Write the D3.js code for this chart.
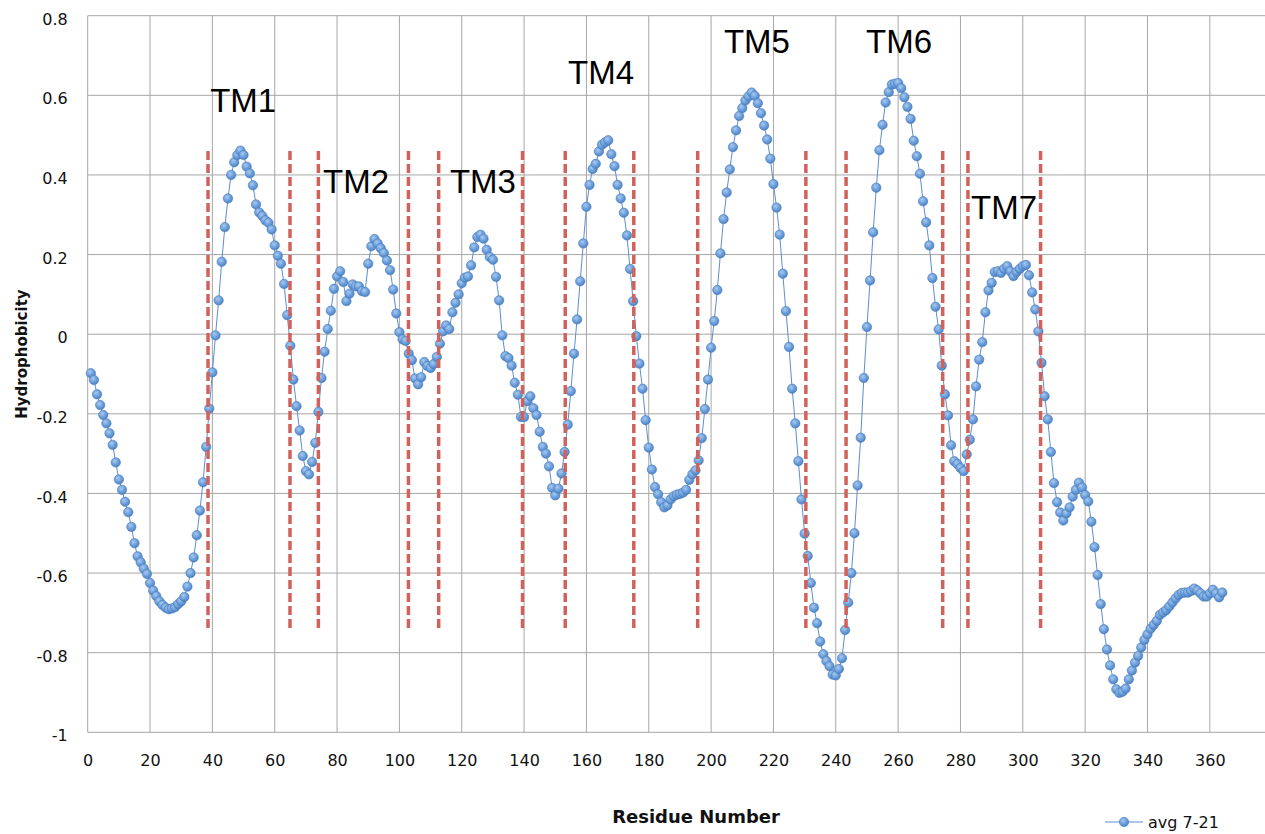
<!DOCTYPE html>
<html>
<head>
<meta charset="utf-8">
<script src="https://cdn.jsdelivr.net/npm/d3@7/dist/d3.min.js"></script>
<style>
  body { margin: 0; background: #fff; }
  svg { display: block; }
</style>
</head>
<body>
<div id="chart"></div>
<script>
// avg 7-21 hydrophobicity, one value per residue (1..364)
var hydrophobicity = [
  -0.098, -0.115, -0.151, -0.178, -0.203, -0.224, -0.249, -0.278, -0.322, -0.365,
  -0.391, -0.421, -0.447, -0.484, -0.525, -0.558, -0.573, -0.589, -0.602, -0.625,
  -0.644, -0.658, -0.671, -0.680, -0.687, -0.691, -0.689, -0.686, -0.678, -0.671,
  -0.660, -0.634, -0.600, -0.561, -0.505, -0.443, -0.372, -0.283, -0.187, -0.096,
  -0.003, 0.085, 0.182, 0.269, 0.341, 0.400, 0.432, 0.450, 0.461, 0.450,
  0.421, 0.404, 0.374, 0.326, 0.306, 0.297, 0.286, 0.280, 0.263, 0.223,
  0.197, 0.177, 0.126, 0.048, -0.029, -0.114, -0.181, -0.242, -0.306, -0.344,
  -0.352, -0.321, -0.273, -0.195, -0.110, -0.044, 0.013, 0.059, 0.114, 0.145,
  0.158, 0.131, 0.083, 0.102, 0.125, 0.120, 0.120, 0.108, 0.106, 0.177,
  0.221, 0.239, 0.228, 0.216, 0.204, 0.185, 0.161, 0.112, 0.052, 0.005,
  -0.013, -0.017, -0.049, -0.065, -0.111, -0.126, -0.108, -0.070, -0.080, -0.085,
  -0.075, -0.057, -0.024, 0.007, 0.022, 0.013, 0.055, 0.079, 0.100, 0.128,
  0.142, 0.145, 0.173, 0.218, 0.244, 0.250, 0.240, 0.212, 0.194, 0.187,
  0.144, 0.085, -0.003, -0.055, -0.060, -0.079, -0.122, -0.152, -0.208, -0.208,
  -0.168, -0.156, -0.186, -0.203, -0.245, -0.283, -0.300, -0.332, -0.386, -0.405,
  -0.388, -0.350, -0.296, -0.227, -0.143, -0.049, 0.037, 0.133, 0.228, 0.320,
  0.375, 0.415, 0.428, 0.459, 0.476, 0.482, 0.487, 0.452, 0.422, 0.375,
  0.341, 0.305, 0.248, 0.164, 0.083, -0.005, -0.074, -0.137, -0.216, -0.285,
  -0.340, -0.384, -0.402, -0.422, -0.435, -0.430, -0.415, -0.407, -0.403, -0.401,
  -0.398, -0.391, -0.366, -0.352, -0.342, -0.317, -0.261, -0.188, -0.114, -0.034,
  0.033, 0.111, 0.203, 0.289, 0.356, 0.414, 0.470, 0.512, 0.548, 0.568,
  0.587, 0.597, 0.607, 0.599, 0.580, 0.555, 0.524, 0.489, 0.441, 0.377,
  0.318, 0.250, 0.152, 0.058, -0.032, -0.137, -0.224, -0.319, -0.415, -0.501,
  -0.557, -0.625, -0.687, -0.726, -0.772, -0.804, -0.821, -0.834, -0.855, -0.857,
  -0.841, -0.814, -0.743, -0.674, -0.600, -0.500, -0.380, -0.260, -0.110, 0.018,
  0.135, 0.256, 0.368, 0.462, 0.526, 0.582, 0.608, 0.627, 0.629, 0.631,
  0.618, 0.595, 0.571, 0.541, 0.486, 0.447, 0.403, 0.334, 0.281, 0.223,
  0.141, 0.069, 0.012, -0.079, -0.151, -0.204, -0.279, -0.319, -0.326, -0.336,
  -0.344, -0.302, -0.265, -0.214, -0.131, -0.064, -0.020, 0.055, 0.110, 0.129,
  0.156, 0.158, 0.154, 0.164, 0.171, 0.158, 0.146, 0.156, 0.164, 0.171,
  0.174, 0.148, 0.105, 0.062, 0.007, -0.072, -0.156, -0.214, -0.296, -0.374,
  -0.422, -0.448, -0.468, -0.450, -0.435, -0.408, -0.391, -0.373, -0.385, -0.404,
  -0.420, -0.471, -0.535, -0.605, -0.678, -0.741, -0.792, -0.832, -0.867, -0.892,
  -0.901, -0.898, -0.890, -0.867, -0.845, -0.825, -0.808, -0.787, -0.768, -0.754,
  -0.740, -0.730, -0.720, -0.705, -0.699, -0.693, -0.684, -0.674, -0.664, -0.655,
  -0.650, -0.649, -0.649, -0.645, -0.639, -0.644, -0.651, -0.659, -0.659, -0.651,
  -0.642, -0.651, -0.661, -0.649
];
var firstResidue = 1;

// helix boundaries (residue numbers) drawn as red dashed lines
var tmBoundaries = [38.6, 64.9, 74, 102.9, 112.6, 139.5, 153.2, 175.2, 195.7, 230.4, 243.3, 274.3, 282.4, 305.7];
var boundaryTop = 0.46;
var boundaryBottom = -0.74;

// helix labels, anchored in data units (residue, hydrophobicity of baseline)
var tmNames = ["TM1", "TM2", "TM3", "TM4", "TM5", "TM6", "TM7"];
var tmNameX = [39.3, 75.5, 116.2, 154.1, 204.1, 249.7, 283.4];
var tmNameY = [0.559, 0.355, 0.355, 0.629, 0.707, 0.707, 0.290];

var xTicks = [0, 20, 40, 60, 80, 100, 120, 140, 160, 180, 200, 220, 240, 260, 280, 300, 320, 340, 360];
var xGrid = xTicks.concat([380]);
var yTicks = [0.8, 0.6, 0.4, 0.2, 0, -0.2, -0.4, -0.6, -0.8, -1];
var yTickLabels = ["0.8", "0.6", "0.4", "0.2", "0", "-0.2", "-0.4", "-0.6", "-0.8", "-1"];
var seriesName = "avg 7-21";

var width = 1265, height = 834;
var plot = {left: 87.7, top: 15.7, bottom: 732.3};
var pxPerResidue = 3.117;
var markerR = 4.7;

var data = hydrophobicity.map(function(v, i) { return {res: firstResidue + i, value: v}; });

var svg = d3.select("#chart")
  .append("svg")
    .attr("width", width)
    .attr("height", height)
    .style("font-family", "'DejaVu Sans', sans-serif");

svg.append("rect").attr("width", width).attr("height", height).attr("fill", "#fff");

var defs = svg.append("defs");
var grad = defs.append("radialGradient")
  .attr("id", "bubble")
  .attr("cx", "40%").attr("cy", "35%").attr("r", "65%");
grad.append("stop").attr("offset", "0%").attr("stop-color", "#a9c9ee");
grad.append("stop").attr("offset", "60%").attr("stop-color", "#6a9edb");
grad.append("stop").attr("offset", "100%").attr("stop-color", "#4d82c4");

var blur = defs.append("filter").attr("id", "soft")
  .attr("x", "-50%").attr("y", "-10%").attr("width", "200%").attr("height", "120%");
blur.append("feGaussianBlur").attr("stdDeviation", 1.2);

var x = d3.scaleLinear()
  .domain([0, 380])
  .range([plot.left, plot.left + 380 * pxPerResidue]);

var y = d3.scaleLinear()
  .domain([-1, 0.8])
  .range([plot.bottom, plot.top]);

// grid
svg.append("g")
  .selectAll("line")
  .data(yTicks)
  .enter()
  .append("line")
    .attr("x1", x(0)).attr("x2", x(380))
    .attr("y1", function(d) { return y(d); })
    .attr("y2", function(d) { return y(d); })
    .attr("stroke", "#a6a6a6")
    .attr("stroke-width", 1);

svg.append("g")
  .selectAll("line")
  .data(xGrid)
  .enter()
  .append("line")
    .attr("x1", function(d) { return x(d); })
    .attr("x2", function(d) { return x(d); })
    .attr("y1", y(0.8)).attr("y2", y(-1))
    .attr("stroke", "#a6a6a6")
    .attr("stroke-width", 1);

// y axis labels
var yAxis = svg.append("g")
  .attr("transform", "translate(" + (plot.left - 20) + ",3.5)")
  .call(d3.axisLeft(y).tickValues(yTicks).tickSize(0).tickPadding(0)
    .tickFormat(function(d, i) { return yTickLabels[i]; }));
yAxis.select(".domain").remove();
yAxis.selectAll("text")
  .attr("fill", "#111")
  .style("font-size", "16px")
  .style("font-family", "'DejaVu Sans', sans-serif");

// x axis labels
var xAxis = svg.append("g")
  .attr("transform", "translate(0," + (plot.bottom + 22) + ")")
  .call(d3.axisBottom(x).tickValues(xTicks).tickSize(0).tickPadding(0));
xAxis.select(".domain").remove();
xAxis.selectAll("text")
  .attr("fill", "#111")
  .style("font-size", "16px")
  .style("font-family", "'DejaVu Sans', sans-serif");

// axis titles
svg.append("text")
  .attr("transform", "translate(27," + y(-0.05) + ") rotate(-90)")
  .attr("text-anchor", "middle")
  .style("font-size", "15px")
  .style("font-weight", "bold")
  .attr("fill", "#111")
  .text("Hydrophobicity");

svg.append("text")
  .attr("x", 696)
  .attr("y", 823)
  .attr("text-anchor", "middle")
  .style("font-size", "18px")
  .style("font-weight", "bold")
  .attr("fill", "#111")
  .text("Residue Number");

// the series
var line = d3.line()
  .x(function(d) { return x(d.res); })
  .y(function(d) { return y(d.value); });

svg.append("path")
  .datum(data)
  .attr("d", line)
  .attr("fill", "none")
  .attr("stroke", "#5b8fd0")
  .attr("stroke-width", 1);

svg.append("g")
  .selectAll("circle")
  .data(data)
  .enter()
  .append("circle")
    .attr("cx", function(d) { return x(d.res); })
    .attr("cy", function(d) { return y(d.value); })
    .attr("r", markerR)
    .attr("fill", "url(#bubble)")
    .attr("stroke", "#4a7cbc")
    .attr("stroke-width", 0.6);

// TM boundaries: soft shadow then red dashes
var bounds = svg.append("g");
bounds.selectAll("line.shadow")
  .data(tmBoundaries)
  .enter()
  .append("line")
    .attr("class", "shadow")
    .attr("x1", function(d) { return x(d) + 1; })
    .attr("x2", function(d) { return x(d) + 1; })
    .attr("y1", y(boundaryTop) + 1)
    .attr("y2", y(boundaryBottom) + 1)
    .attr("stroke", "#999")
    .attr("stroke-opacity", 0.6)
    .attr("stroke-width", 4)
    .attr("stroke-dasharray", "9,4")
    .attr("filter", "url(#soft)");
bounds.selectAll("line.dash")
  .data(tmBoundaries)
  .enter()
  .append("line")
    .attr("class", "dash")
    .attr("x1", function(d) { return x(d); })
    .attr("x2", function(d) { return x(d); })
    .attr("y1", y(boundaryTop))
    .attr("y2", y(boundaryBottom))
    .attr("stroke", "#d0625b")
    .attr("stroke-width", 3.5)
    .attr("stroke-dasharray", "9,4");

// TM labels
svg.append("g")
  .selectAll("text")
  .data(tmNames)
  .enter()
  .append("text")
    .attr("x", function(d, i) { return x(tmNameX[i]); })
    .attr("y", function(d, i) { return y(tmNameY[i]); })
    .style("font-family", "'Liberation Sans', Arial, sans-serif")
    .style("font-size", "33px")
    .attr("fill", "#000")
    .text(function(d) { return d; });

// legend
var legend = svg.append("g").attr("transform", "translate(1105,822)");
legend.append("line")
  .attr("x1", 0).attr("x2", 38)
  .attr("stroke", "#5b8fd0")
  .attr("stroke-width", 1);
legend.append("circle")
  .attr("cx", 19).attr("r", markerR)
  .attr("fill", "url(#bubble)")
  .attr("stroke", "#4a7cbc")
  .attr("stroke-width", 0.6);
legend.append("text")
  .attr("x", 43)
  .attr("y", 6)
  .style("font-size", "16px")
  .attr("fill", "#111")
  .text(seriesName);
</script>
</body>
</html>
